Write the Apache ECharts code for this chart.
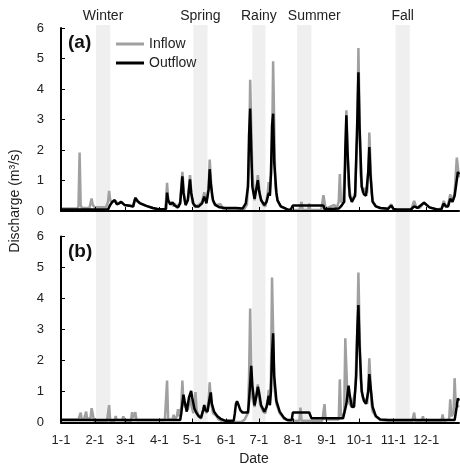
<!DOCTYPE html>
<html>
<head>
<meta charset="utf-8">
<script src="https://cdn.jsdelivr.net/npm/echarts@6/dist/echarts.min.js"></script>
<style>
  html, body { margin: 0; padding: 0; background: #fff; }
  #chart { width: 460px; height: 469px; }
</style>
</head>
<body>
<div id="chart"></div>
<script>
// calendar (non-leap year), one category per day
var months = ['1', '2', '3', '4', '5', '6', '7', '8', '9', '10', '11', '12']
var monthDays = [31, 28, 31, 30, 31, 30, 31, 31, 30, 31, 30, 31]

// season bands (first day, last day)
var seasonNames = ['Winter', 'Spring', 'Rainy', 'Summer', 'Fall']
var seasonStart = ['2-2', '5-2', '6-25', '8-5', '11-3']
var seasonEnd = ['2-15', '5-15', '7-7', '8-18', '11-16']

// [day index, discharge m3/s]
var inflowA = [[0,0.08],[15,0.08],[16,0.15],[17,1.92],[18,0.2],[19,0.1],[26,0.1],[27,0.25],[28,0.41],[29,0.2],[31,0.12],[41,0.12],[43,0.3],[44,0.66],[45,0.35],[47,0.3],[50,0.33],[52,0.22],[55,0.3],[58,0.2],[63,0.17],[66,0.15],[68,0.43],[72,0.26],[78,0.17],[84,0.1],[89,0.06],[95,0.06],[96,0.3],[97,0.92],[98,0.4],[100,0.2],[101,0.28],[103,0.15],[104,0.25],[106,0.1],[109,0.3],[111,1.28],[113,0.35],[114,0.18],[116,0.4],[118,1.18],[120,0.3],[122,0.15],[126,0.2],[129,0.3],[131,0.61],[133,0.3],[135,0.8],[136,1.69],[138,0.5],[140,0.25],[142,0.2],[146,0.22],[148,0.08],[152,0.03],[167,0.03],[170,0.2],[172,1.5],[173,4.3],[175,1.2],[177,0.35],[179,0.8],[180,1.18],[182,0.5],[185,0.2],[187,0.15],[189,0.6],[190,0.95],[191,0.5],[193,1.8],[194,4.91],[196,0.8],[198,0.35],[201,0.15],[207,0.05],[212,0.03],[218,0.03],[220,0.3],[221,0.03],[226,0.03],[227,0.25],[228,0.03],[238,0.03],[240,0.52],[242,0.08],[250,0.2],[252,0.08],[254,0.3],[255,1.21],[256,0.3],[258,0.3],[260,1.5],[261,3.3],[263,0.8],[266,0.3],[269,0.6],[271,2.5],[272,5.34],[274,1.2],[276,0.6],[278,0.75],[280,0.6],[281,1.2],[282,2.57],[284,0.6],[285,0.33],[288,0.15],[292,0.1],[299,0.07],[302,0.22],[304,0.07],[307,0.02],[320,0.02],[323,0.33],[325,0.12],[328,0.1],[332,0.28],[337,0.12],[344,0.05],[348,0.08],[350,0.33],[352,0.15],[354,0.2],[356,0.55],[358,0.3],[360,0.6],[362,1.75],[364,1.1]]
var outflowA = [[0,0.05],[43,0.05],[45,0.2],[47,0.3],[49,0.36],[51,0.22],[53,0.25],[55,0.3],[58,0.2],[63,0.17],[66,0.15],[67,0.3],[68,0.43],[70,0.32],[72,0.26],[78,0.17],[84,0.1],[89,0.06],[96,0.06],[97,0.6],[98,0.35],[100,0.22],[102,0.28],[104,0.18],[107,0.12],[109,0.25],[110,0.7],[111,1.14],[112,0.6],[114,0.2],[116,0.35],[117,0.7],[118,1.04],[119,0.6],[121,0.25],[123,0.15],[126,0.15],[129,0.25],[131,0.47],[133,0.25],[135,0.7],[136,1.37],[137,0.9],[139,0.35],[141,0.2],[145,0.12],[150,0.1],[160,0.1],[166,0.08],[169,0.25],[171,0.8],[172,2.5],[173,3.36],[174,2.0],[175,0.8],[177,0.4],[179,0.8],[180,1.01],[181,0.7],[183,0.35],[186,0.2],[188,0.3],[190,0.6],[191,0.5],[192,1.2],[193,2.8],[194,3.19],[195,1.6],[197,0.6],[198,0.35],[201,0.15],[207,0.05],[210,0.04],[212,0.18],[240,0.18],[241,0.06],[254,0.08],[256,0.15],[259,0.3],[260,2.0],[261,3.14],[262,2.0],[264,0.5],[266,0.3],[269,0.5],[271,3.0],[272,4.55],[273,2.8],[275,0.8],[277,0.55],[279,0.5],[281,1.3],[282,2.1],[283,1.2],[285,0.3],[288,0.15],[292,0.1],[299,0.07],[302,0.18],[304,0.07],[307,0.05],[320,0.05],[323,0.15],[326,0.1],[332,0.27],[337,0.12],[344,0.05],[348,0.06],[350,0.25],[352,0.15],[354,0.15],[356,0.4],[358,0.3],[360,0.5],[363,1.28],[364,1.2]]
var inflowB = [[0,0.1],[16,0.1],[18,0.32],[19,0.1],[21,0.1],[23,0.35],[24,0.1],[27,0.15],[28,0.46],[30,0.1],[31,0.03],[42,0.03],[44,0.56],[45,0.05],[49,0.05],[50,0.21],[51,0.08],[56,0.08],[57,0.2],[58,0.05],[64,0.05],[65,0.33],[66,0.15],[68,0.33],[69,0.08],[82,0.08],[83,0.12],[84,0.08],[95,0.08],[97,1.35],[98,0.1],[102,0.1],[103,0.25],[104,0.1],[106,0.2],[107,0.43],[108,0.2],[110,0.5],[111,1.35],[112,0.6],[114,0.5],[116,0.4],[118,0.8],[119,0.6],[121,0.3],[123,0.98],[124,0.4],[126,0.2],[128,0.12],[131,0.5],[133,0.3],[135,0.7],[136,1.3],[137,0.7],[139,0.3],[142,0.22],[144,0.1],[148,0.04],[155,0.02],[165,0.02],[168,0.1],[171,0.3],[172,1.5],[173,3.68],[174,1.5],[175,0.8],[177,0.5],[179,1.0],[180,1.23],[182,0.6],[185,0.35],[187,0.3],[189,0.7],[190,1.05],[191,0.55],[192,1.5],[193,4.68],[195,1.2],[197,0.6],[200,0.3],[204,0.12],[208,0.06],[218,0.06],[219,0.48],[220,0.06],[239,0.06],[241,0.59],[242,0.1],[254,0.1],[255,1.39],[256,0.2],[259,0.3],[260,2.72],[262,0.8],[264,0.6],[266,0.5],[269,1.0],[271,3.0],[272,4.84],[274,1.4],[276,0.8],[278,0.73],[280,0.6],[281,1.2],[282,2.07],[284,0.6],[285,0.35],[288,0.2],[292,0.08],[300,0.05],[306,0.02],[321,0.02],[323,0.32],[324,0.05],[330,0.05],[331,0.2],[332,0.05],[348,0.05],[349,0.26],[350,0.05],[355,0.1],[356,0.75],[357,0.2],[359,0.3],[360,1.43],[361,0.6],[362,0.6],[364,0.5]]
var outflowB = [[0,0.08],[109,0.08],[110,0.3],[112,0.9],[113,0.7],[115,0.35],[117,0.8],[119,1.02],[120,0.8],[122,0.45],[124,0.3],[126,0.2],[128,0.15],[130,0.4],[131,0.56],[132,0.4],[134,0.35],[136,0.8],[137,0.97],[138,0.6],[140,0.35],[143,0.2],[146,0.12],[150,0.06],[158,0.06],[159,0.3],[160,0.6],[161,0.69],[162,0.6],[164,0.4],[166,0.32],[171,0.32],[172,0.7],[174,1.83],[175,1.2],[177,0.55],[179,0.9],[180,1.15],[181,1.0],[183,0.55],[186,0.35],[188,0.5],[190,0.86],[191,0.56],[192,1.0],[193,2.2],[194,2.88],[195,1.5],[197,0.7],[200,0.35],[204,0.15],[207,0.08],[211,0.08],[212,0.32],[227,0.32],[229,0.14],[258,0.14],[261,0.6],[263,1.19],[264,0.9],[266,0.51],[268,0.5],[270,1.5],[271,3.0],[272,3.79],[273,2.5],[275,1.0],[277,0.7],[279,0.6],[281,1.0],[282,1.56],[283,1.2],[285,0.5],[288,0.2],[292,0.1],[300,0.08],[360,0.08],[361,0.3],[363,0.78],[364,0.7]]

var yTicks = { min: 0, max: 6, interval: 1 }

var dates = []
months.forEach(function (m, i) {
  for (var d = 1; d <= monthDays[i]; d++) dates.push(m + '-' + d)
})

var font = "'Liberation Sans', Arial, sans-serif"
var inflowColor = '#a0a0a0'
var outflowColor = '#000'
var isMonthStart = function (idx, val) { return val.split('-')[1] === '1' }

var myChart = echarts.init(document.getElementById('chart'))

function xAxisOf(gridIndex, showLabel) {
  return {
    type: 'category',
    gridIndex: gridIndex,
    data: dates,
    boundaryGap: false,
    z: 10,
    axisLine: { lineStyle: { color: '#000', width: 2 } },
    axisTick: { inside: true, length: 4, interval: isMonthStart, lineStyle: { color: '#000', width: 1 } },
    axisLabel: { show: showLabel, interval: isMonthStart, color: '#222', fontSize: 13, fontFamily: font, margin: 11 },
    splitLine: { show: false },
    name: showLabel ? 'Date' : '',
    nameLocation: 'middle',
    nameGap: 30,
    nameTextStyle: { color: '#222', fontSize: 14, fontFamily: font, padding: [0, 12, 0, 0] }
  }
}

function yAxisOf(gridIndex) {
  return {
    type: 'value',
    gridIndex: gridIndex,
    min: yTicks.min,
    max: yTicks.max,
    interval: yTicks.interval,
    z: 10,
    axisLine: { show: true, lineStyle: { color: '#000', width: 2 } },
    axisTick: { show: true, inside: true, length: 4, lineStyle: { color: '#000', width: 1 } },
    axisLabel: { color: '#222', fontSize: 13, fontFamily: font, margin: 17 },
    splitLine: { show: false }
  }
}

function lineOf(name, data, color, idx, z) {
  return {
    name: name,
    type: 'line',
    xAxisIndex: idx,
    yAxisIndex: idx,
    data: data,
    symbol: 'none',
    z: z,
    lineStyle: { color: color, width: 2.5 },
    itemStyle: { color: color },
    animation: false
  }
}

var bands = seasonNames.map(function (name, i) {
  return [
    {
      name: name,
      xAxis: seasonStart[i],
      label: { offset: name === 'Summer' ? [10, 0] : [0, 0] }
    },
    { xAxis: seasonEnd[i] }
  ]
})

var option = {
  animation: false,
  textStyle: { fontFamily: font },
  title: [
    { text: '(a)', left: 63, top: 28, textStyle: { fontSize: 19, fontWeight: 'bold', color: '#111', fontFamily: font } },
    { text: '(b)', left: 63, top: 237, textStyle: { fontSize: 19, fontWeight: 'bold', color: '#111', fontFamily: font } }
  ],
  legend: {
    data: ['Inflow', 'Outflow'],
    orient: 'vertical',
    left: 111,
    top: 32,
    icon: 'rect',
    itemWidth: 28,
    itemHeight: 3,
    itemGap: 5,
    textStyle: { color: '#222', fontSize: 14, fontFamily: font }
  },
  grid: [
    { left: 61, right: 1, top: 28, height: 183 },
    { left: 61, right: 1, top: 236.5, height: 186 },
    { left: 61, right: 1, top: 25, bottom: 46.5 }
  ],
  xAxis: [
    xAxisOf(0, false),
    xAxisOf(1, true),
    { type: 'category', gridIndex: 2, data: dates, boundaryGap: false, show: false }
  ],
  yAxis: [
    yAxisOf(0),
    yAxisOf(1),
    { type: 'value', gridIndex: 2, min: 0, max: 1, show: false }
  ],
  graphic: [
    {
      type: 'text',
      x: 15,
      y: 201,
      rotation: Math.PI / 2,
      style: { text: 'Discharge (m³/s)', fill: '#222', font: '14px ' + font, align: 'center', verticalAlign: 'middle' }
    }
  ],
  series: [
    {
      type: 'line',
      xAxisIndex: 2,
      yAxisIndex: 2,
      data: [],
      z: 0,
      silent: true,
      markArea: {
        silent: true,
        itemStyle: { color: '#efefef' },
        label: { show: true, position: 'top', distance: 2, color: '#222', fontSize: 14, fontFamily: font },
        data: bands
      }
    },
    lineOf('Inflow', inflowA, inflowColor, 0, 2),
    lineOf('Outflow', outflowA, outflowColor, 0, 3),
    lineOf('Inflow', inflowB, inflowColor, 1, 2),
    lineOf('Outflow', outflowB, outflowColor, 1, 3)
  ]
}

myChart.setOption(option)
window.onresize = myChart.resize
</script>
</body>
</html>
